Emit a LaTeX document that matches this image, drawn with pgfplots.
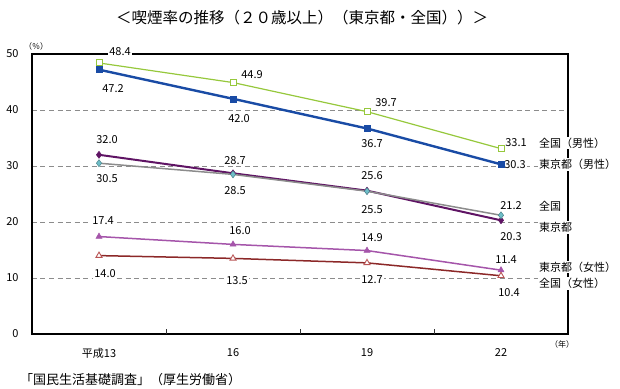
\documentclass[border=0pt]{standalone}
\usepackage{fontspec}
\setmainfont{Noto Sans CJK JP}
\usepackage{pgfplots}
\pgfplotsset{compat=1.18}
\definecolor{cgreen}{RGB}{150,200,60}
\definecolor{cblue}{RGB}{25,75,165}
\definecolor{cpurple}{RGB}{95,20,100}
\definecolor{cgray}{RGB}{140,140,140}
\definecolor{cteal}{RGB}{110,190,200}
\definecolor{cmauve}{RGB}{165,85,170}
\definecolor{cred}{RGB}{140,40,40}
\definecolor{cred2}{RGB}{185,85,85}
\tikzset{lbl/.style={font=\fontsize{11}{13}\selectfont, fill=white, inner sep=1pt}}
\newcommand{\lab}[4]{\node[lbl] at ([xshift=#3pt,yshift=#4pt]axis cs:#1) {#2};}
\newcommand{\rlab}[2]{\node[lbl,anchor=west] at (axis cs:3.776,#1) {#2};}
\begin{document}
\begin{tikzpicture}[x=1pt,y=1pt]
\path[use as bounding box] (0,0) rectangle (620,388);
\node[font=\fontsize{15.5}{18}\selectfont] at (302,370) {＜喫煙率の推移（２０歳以上）（東京都・全国））＞};
\begin{axis}[
  at={(32pt,54pt)}, anchor=south west, scale only axis,
  width=536pt, height=280pt,
  xmin=0, xmax=4, ymin=0, ymax=50,
  clip=false,
  xtick={0.5,1.5,2.5,3.5}, xticklabels={平成13,16,19,22},
  major tick length=0pt,
  ytick={0,10,...,50},
  extra y ticks={10,20,30,40}, extra y tick labels={},
  extra y tick style={grid=major, major grid style={dash pattern=on 5pt off 3.5pt, draw=black!45, line width=0.9pt}},
  axis line style={draw=black, line width=1.3pt},
  tick label style={font=\fontsize{11}{13}\selectfont},
  /pgf/number format/assume math mode=true,
  yticklabel style={xshift=-10pt},
  xticklabel style={yshift=-11pt},
]
\addplot[cgreen, line width=1.2pt, mark=square*, mark size=3pt, mark options={solid, fill=white, draw=cgreen, line width=1pt}]
  coordinates {(0.5,48.4) (1.5,44.9) (2.5,39.7) (3.5,33.1)};
\addplot[cblue, line width=2.4pt, mark=square*, mark size=3pt, mark options={solid, fill=cblue, draw=cblue, line width=0.5pt}]
  coordinates {(0.5,47.2) (1.5,42.0) (2.5,36.7) (3.5,30.3)};
\addplot[cpurple, line width=2pt, mark=diamond*, mark size=3.5pt, mark options={solid, fill=cpurple, draw=cpurple, line width=0.5pt}]
  coordinates {(0.5,32.0) (1.5,28.7) (2.5,25.6) (3.5,20.3)};
\addplot[cgray, line width=1.5pt, mark=diamond*, mark size=3.5pt, mark options={solid, fill=cteal, draw=cteal!70!black, line width=0.5pt}]
  coordinates {(0.5,30.5) (1.5,28.5) (2.5,25.5) (3.5,21.2)};
\addplot[cmauve, line width=1.5pt, mark=triangle*, mark size=3.5pt, mark options={solid, fill=cmauve, draw=cmauve, line width=0.5pt}]
  coordinates {(0.5,17.4) (1.5,16.0) (2.5,14.9) (3.5,11.4)};
\addplot[cred, line width=1.5pt, mark=triangle*, mark size=3.5pt, mark options={solid, fill=white, draw=cred2, line width=0.9pt}]
  coordinates {(0.5,14.0) (1.5,13.5) (2.5,12.7) (3.5,10.4)};
% frame and category separators
\draw[black, line width=1.3pt] (rel axis cs:0,0) rectangle (rel axis cs:1,1);
\draw[black!80, line width=1pt] (axis cs:1,0) -- ++(0,5pt) (axis cs:2,0) -- ++(0,5pt) (axis cs:3,0) -- ++(0,5pt);
% labels
\lab{0.5,48.4}{48.4}{21}{11}
\lab{1.5,44.9}{44.9}{19}{8}
\lab{2.5,39.7}{39.7}{19}{9}
\lab{3.5,33.1}{33.1}{15}{6}
\lab{0.5,47.2}{47.2}{14}{-19}
\lab{1.5,42.0}{42.0}{6}{-20}
\lab{2.5,36.7}{36.7}{5}{-15}
\lab{3.5,30.3}{30.3}{14}{0}
\lab{0.5,32.0}{32.0}{8}{15}
\lab{1.5,28.7}{28.7}{2}{13}
\lab{2.5,25.6}{25.6}{5}{15}
\lab{3.5,20.3}{20.3}{10}{-16}
\lab{0.5,30.5}{30.5}{8}{-15}
\lab{1.5,28.5}{28.5}{2}{-16}
\lab{2.5,25.5}{25.5}{5}{-18}
\lab{3.5,21.2}{21.2}{10}{10}
\lab{0.5,17.4}{17.4}{4}{16}
\lab{1.5,16.0}{16.0}{7}{14}
\lab{2.5,14.9}{14.9}{5}{13}
\lab{3.5,11.4}{11.4}{5}{11}
\lab{0.5,14.0}{14.0}{6}{-18}
\lab{1.5,13.5}{13.5}{4}{-22}
\lab{2.5,12.7}{12.7}{5}{-17}
\lab{3.5,10.4}{10.4}{8}{-17}
\rlab{34.1}{全国（男性）}
\rlab{30.27}{東京都（男性）}
\rlab{22.87}{全国}
\rlab{19.02}{東京都}
\rlab{11.93}{東京都（女性）}
\rlab{8.99}{全国（女性）}
\end{axis}
\node[font=\fontsize{8}{9}\selectfont] at (36,342) {（％）};
\node[font=\fontsize{8}{9}\selectfont] at (562,44) {（年）};
\node[anchor=west, inner sep=0pt, font=\fontsize{13}{15}\selectfont] at (20,8) {「国民生活基礎調査」（厚生労働省）};
\end{tikzpicture}
\end{document}
